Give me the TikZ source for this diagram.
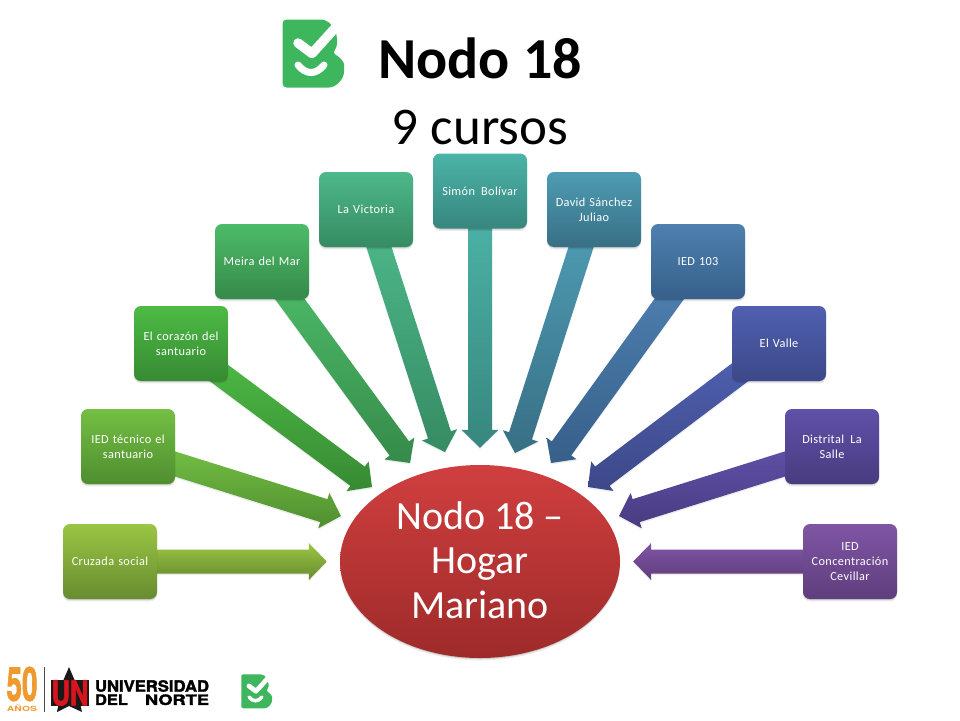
\documentclass[tikz,border=0pt]{standalone}
\usepackage{fontspec}
\setmainfont{Carlito}
\newfontfamily\boxfont[LetterSpace=3]{Carlito}
\newfontfamily\heros{TeX Gyre Heros}
\newfontfamily\herosfat[FakeBold=2]{TeX Gyre Heros Bold}
\usetikzlibrary{calc,shadows,backgrounds,shapes.geometric}
\definecolor{logogreen}{HTML}{3DB65D}
\definecolor{cA}{HTML}{9BC544}\definecolor{dA}{HTML}{678C2F}
\definecolor{cB}{HTML}{74BF44}\definecolor{dB}{HTML}{4F8E2F}
\definecolor{cC}{HTML}{4DBB45}\definecolor{dC}{HTML}{378A33}
\definecolor{cD}{HTML}{4CBB68}\definecolor{dD}{HTML}{368A4A}
\definecolor{cE}{HTML}{4DB88A}\definecolor{dE}{HTML}{368B63}
\definecolor{cF}{HTML}{4CB3A8}\definecolor{dF}{HTML}{37877E}
\definecolor{cG}{HTML}{4E9CB3}\definecolor{dG}{HTML}{386F85}
\definecolor{cH}{HTML}{4E80B0}\definecolor{dH}{HTML}{37608A}
\definecolor{cI}{HTML}{5060B0}\definecolor{dI}{HTML}{3C4888}
\definecolor{cJ}{HTML}{6050A8}\definecolor{dJ}{HTML}{483C80}
\definecolor{cK}{HTML}{8055A5}\definecolor{dK}{HTML}{5E3E7C}
\definecolor{hubtop}{HTML}{D03F3F}\definecolor{hubbot}{HTML}{9E2A2A}
\definecolor{unorange}{HTML}{EE9A2E}
\definecolor{unred}{HTML}{D8141C}
\tikzset{
  softshadow/.style={
    general shadow={shadow xshift=0pt,shadow yshift=-1pt,opacity=.12,fill=black},
    general shadow={shadow xshift=0pt,shadow yshift=-2.4pt,opacity=.08,fill=black}},
  faintshadow/.style={general shadow={shadow xshift=0pt,shadow yshift=-1.5pt,opacity=.07,fill=black}},
  schoolbox/.style n args={2}{rectangle,rounded corners=7pt,minimum width=94pt,minimum height=75pt,
    inner sep=0pt,text width=90pt,align=center,text=white,top color=#1,bottom color=#2,softshadow,
    font=\boxfont\fontsize{12.3}{15}\selectfont},
  fatarrow/.style n args={2}{top color=#1,bottom color=#2,faintshadow}
}
\newcommand\fatarrow[4]{%
  \coordinate (neck) at ($(#2)!18pt!(#1)$);
  \coordinate (tail) at ($(#1)!-20pt!(#2)$);
  \path[fatarrow={#3}{#4}]
    ($(tail)!12pt!90:(#2)$) -- ($(neck)!12pt!90:(#2)$) -- ($(neck)!18.5pt!90:(#2)$) -- (#2)
    -- ($(neck)!18.5pt!-90:(#2)$) -- ($(neck)!12pt!-90:(#2)$) -- ($(tail)!12pt!-90:(#2)$) -- cycle;}
\newcommand\checklogo[3]{%
  \begin{scope}[shift={(#1,#2)},scale=#3]
    \fill[logogreen,rounded corners=#3*4pt] (0.5,0.5) -- (43,0.5) -- (50,6) -- (55,16) -- (55,29) -- (50,34)
      .. controls (58,38) and (62,43) .. (62,49)
      .. controls (62,60) and (54,68.5) .. (43,68.5) -- (0.5,68.5) -- cycle;
    \draw[white,line width=#3*9.5pt,line cap=round,line join=round] (16,24) -- (30,34.5) -- (54,8);
    \draw[white,line width=#3*7pt,line cap=round] (16,46) .. controls (24,56) and (34,56) .. (42,46);
  \end{scope}}
\begin{document}
\begin{tikzpicture}[x=1pt,y=-1pt]
\useasboundingbox (0,0) rectangle (960,720);
\checklogo{282}{19}{1}
\node[font=\bfseries\fontsize{58}{58}\selectfont,inner sep=0pt] (title) at (480,58) {Nodo 18};
\node[font=\fontsize{53}{53}\selectfont,inner sep=0pt] (subtitle) at (480,127) {9 cursos};
% boxes
\node[schoolbox={cA}{dA}] (cruzada) at (110,561.5) {Cruzada social};
\node[schoolbox={cB}{dB}] (tecnico) at (128,446.5) {IED técnico el\\santuario};
\node[schoolbox={cC}{dC}] (corazon) at (181,343.5) {El corazón del\\santuario};
\node[schoolbox={cD}{dD}] (meira) at (262,261.5) {Meira del Mar};
\node[schoolbox={cE}{dE}] (victoria) at (366,209.5) {La Victoria};
\node[schoolbox={cF}{dF}] (simon) at (480,191) {Simón\, Bolívar};
\node[schoolbox={cG}{dG}] (david) at (594,209.5) {David Sánchez\\Juliao};
\node[schoolbox={cH}{dH}] (ied) at (698,261.5) {IED 103};
\node[schoolbox={cI}{dI}] (valle) at (779,343.5) {El Valle};
\node[schoolbox={cJ}{dJ}] (salle) at (832,446.5) {Distrital\, La\\Salle};
\node[schoolbox={cK}{dK}] (cevillar) at (850,561.5) {IED\\Concentración\\Cevillar};
% hub
\node[ellipse,minimum width=280pt,minimum height=193pt,inner sep=0pt,top color=hubtop,bottom color=hubbot,
  softshadow,text=white,align=center] (hub) at (480,561.5) {};
\node[text=white,align=center,inner sep=0pt,font=\fontsize{40}{44.5}\selectfont] (hubtext) at (480,560)
  {Nodo 18 --\\Hogar\\Mariano};
% connector ends
\coordinate (s1) at (cruzada.east);
\coordinate (s2) at ($(tecnico.east)+(0,17.5)$);
\coordinate (s3) at ($(corazon.south east)+(-9,-8)$);
\coordinate (s4) at ($(meira.south)+(28,0)$);
\coordinate (s5) at ($(victoria.south)+(13,0)$);
\coordinate (s6) at (simon.south);
\coordinate (s7) at ($(david.south)+(-13,0)$);
\coordinate (s8) at ($(ied.south)+(-29,0)$);
\coordinate (s9) at ($(valle.south west)+(7,-8)$);
\coordinate (s10) at ($(salle.west)+(0,17.5)$);
\coordinate (s11) at (cevillar.west);
\coordinate (t1) at ($(hub.west)+(-13,0)$);
\coordinate (t2) at ($(hub.center)+(-139,-45.5)$);
\coordinate (t3) at ($(hub.center)+(-108,-74.5)$);
\coordinate (t4) at ($(hub.center)+(-70,-98.5)$);
\coordinate (t5) at ($(hub.center)+(-35,-109.5)$);
\coordinate (t6) at ($(hub.north)+(0,-17)$);
\coordinate (t7) at ($(hub.center)+(35,-108.5)$);
\coordinate (t8) at ($(hub.center)+(71,-98.5)$);
\coordinate (t9) at ($(hub.center)+(108,-74.5)$);
\coordinate (t10) at ($(hub.center)+(139,-45.5)$);
\coordinate (t11) at ($(hub.east)+(13,0)$);
\begin{scope}[on background layer]
\fatarrow{s1}{t1}{cA}{dA}
\fatarrow{s2}{t2}{cB}{dB}
\fatarrow{s3}{t3}{cC}{dC}
\fatarrow{s4}{t4}{cD}{dD}
\fatarrow{s5}{t5}{cE}{dE}
\fatarrow{s6}{t6}{cF}{dF}
\fatarrow{s7}{t7}{cG}{dG}
\fatarrow{s8}{t8}{cH}{dH}
\fatarrow{s9}{t9}{cI}{dI}
\fatarrow{s10}{t10}{cJ}{dJ}
\fatarrow{s11}{t11}{cK}{dK}
\end{scope}
% footer logos
\node[inner sep=0pt,text=unorange] (fifty) at (22,684) {\resizebox{31pt}{34pt}{\herosfat 50}};
\node[inner sep=0pt,text=unorange,font=\heros\bfseries] (anos) at (22,708.5) {\resizebox{30pt}{6.5pt}{AÑOS}};
\draw[black!70,line width=.7pt] (44,667) -- (44,712);
\fill[black!90] (69,667) -- (75,681) -- (82,712) -- (69,706) -- (57,712) -- (63,681) -- cycle;
\node[rectangle,fill=black!90,minimum width=38pt,minimum height=26pt,inner sep=0pt] (unbox) at (70,693) {};
\node[inner sep=0pt,text=unred] (un) at (70,693) {\resizebox{37pt}{25pt}{\herosfat UN}};
\node[inner sep=0pt] (uni) at (152,686) {\resizebox{114pt}{11.5pt}{\herosfat\fontsize{10}{10}\selectfont UNIVERSIDAD}};
\node[inner sep=0pt] (del) at (111.5,699.7) {\resizebox{33pt}{10.5pt}{\herosfat\fontsize{10}{10}\selectfont DEL}};
\node[inner sep=0pt] (norte) at (177,699.7) {\resizebox{64pt}{10.5pt}{\herosfat\fontsize{10}{10}\selectfont NORTE}};
\checklogo{241}{674}{0.5}
\end{tikzpicture}
\end{document}
